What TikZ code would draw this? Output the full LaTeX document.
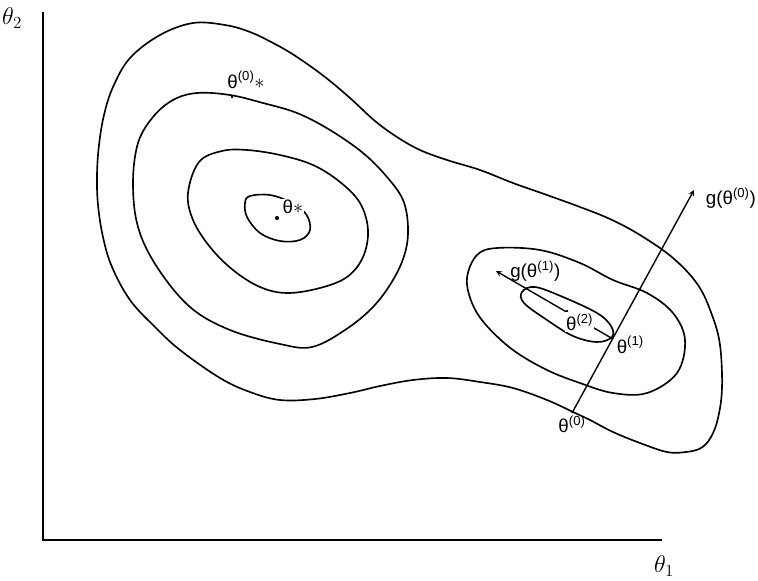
\documentclass[tikz,border=0pt]{standalone}
\usepackage{fontspec}
\usepackage{amsmath}
\newfontfamily\lblfont{Liberation Sans}
\usetikzlibrary{positioning}

\tikzset{
  contour/.style={line width=1.4pt},
  axis/.style={line width=1.9pt},
  path/.style={line width=1.2pt,-stealth},
  lbl/.style={font=\lblfont\fontsize{16}{18}\selectfont,inner sep=1pt},
  pt/.style={circle,fill=black,inner sep=0pt,minimum size=3.5pt}
}

\begin{document}
\begin{tikzpicture}[x=0.03cm,y=-0.03cm]
		\useasboundingbox (0,0) rectangle (758,580);
		%Axes
			\coordinate (ytop) at (43,12);
			\coordinate (xend) at (662,540);
			\draw[axis] (ytop) |- (xend);
			\node (y lbl) at (12,18) {\fontsize{22}{24}\selectfont$\theta_2$};
			\node (x lbl) at (664,566) {\fontsize{22}{24}\selectfont$\theta_1$};
		%Outer contour
			\draw[contour] plot[smooth cycle,tension=0.6] coordinates {
				(160,35) (193,23) (225,25) (250,32) (275,44) (297,57) (325,77)
				(350,98) (375,121) (397,137) (420,150) (447,160) (480,170)
				(513,183) (547,195) (580,207) (610,219) (640,235) (673,258)
				(698,285) (712,315) (720,345) (722,388) (718,418) (711,437)
				(701,448) (686,452) (667,452) (640,443) (613,432) (590,420)
				(573,412) (547,400) (513,388) (480,382) (447,378) (413,380)
				(380,386) (350,393) (315,399) (280,400) (250,392) (220,378)
				(180,350) (155,327) (130,300) (112,267) (103,237) (98,205)
				(97,175) (99,145) (104,115) (113,87) (130,58)};
		%Left contours
			\draw[contour] plot[smooth cycle,tension=0.6] coordinates {
				(153,117) (173,100) (197,93) (230,95) (263,103) (297,113)
				(330,130) (363,153) (387,177) (403,200) (408,227) (405,253)
				(393,280) (373,307) (345,330) (312,347) (280,344)
				(230,330) (190,307) (157,267) (138,227) (133,183) (138,143)};
			\draw[contour] plot[smooth cycle,tension=0.6] coordinates {
				(222,151) (247,150) (280,155) (313,165) (340,182)
				(360,203) (368,230) (363,257) (347,277) (320,288) (287,293)
				(260,287) (233,270) (210,247) (193,220) (188,193) (199,162)};
			\draw[contour] plot[smooth cycle,tension=0.6] coordinates {
				(250,196) (270,195) (290,202) (306,214) (310,230) (300,240)
				(280,241) (260,233) (247,217) (245,203)};
		%Right contours
			\draw[contour] plot[smooth cycle,tension=0.6] coordinates {
				(477,255) (497,248) (540,250) (580,263) (613,280) (647,293)
				(673,313) (685,340) (677,373) (647,393) (613,393) (580,383)
				(547,370) (513,350) (486,325) (472,303) (467,278)};
			\draw[contour] plot[smooth cycle,tension=0.6] coordinates {
				(522,292) (535,287) (563,297) (597,313) (611,326) (612,337)
				(597,342) (573,336) (547,320) (524,303)};
		%Optima
			\node[pt] (star) at (277,218) {};
			\node[lbl,fill=white] (star lbl) at (293,207) {θ$\ast$};
			\node[pt,minimum size=2.5pt] (start star) at (232,97) {};
			\node[lbl] (start star lbl) at (246,80) {θ\textsuperscript{(0)}$\ast$};
		%Steps
			\coordinate (t0) at (572,413);
			\coordinate (g0) at (694,190);
			\coordinate (t1) at (613,339);
			\coordinate (g1) at (496,271);
			\draw[path] (t0) -- (g0);
			\draw[path] (t1) -- (g1);
			\node[pt,minimum size=2.5pt] (t2) at (567,311) {};
			\node[lbl,fill=white,below right=0pt and -3pt of t2] (t2 lbl) {θ\textsuperscript{(2)}};
			\node[lbl,below=1pt of t0] (t0 lbl) {θ\textsuperscript{(0)}};
			\node[lbl,right=2pt of t1,yshift=-5pt] (t1 lbl) {θ\textsuperscript{(1)}};
			\node[lbl,right=11pt of g1] (g1 lbl) {g(θ\textsuperscript{(1)})};
			\node[lbl,right=9pt of g0,yshift=-7pt] (g0 lbl) {g(θ\textsuperscript{(0)})};
	\end{tikzpicture}
\end{document}
